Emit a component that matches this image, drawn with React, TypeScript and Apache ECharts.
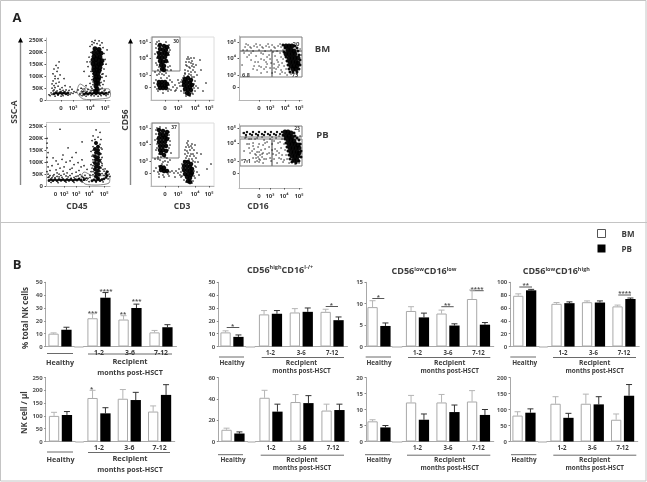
import React, { useEffect, useRef } from "react";
import * as echarts from "echarts";

// ---------- bar chart data ----------
const healthyCat = ["Healthy"];
const recipientCat = ["1-2", "3-6", "7-12"];

const pctTotalBM = [10, 22, 21, 11];
const pctTotalBMErr = [0.6, 3.5, 3, 1.5];
const pctTotalPB = [13, 38, 30, 15];
const pctTotalPBErr = [2, 4, 3, 2];
const countTotalBM = [100, 170, 167, 117];
const countTotalBMErr = [14, 30, 36, 22];
const countTotalPB = [104, 110, 162, 182];
const countTotalPBErr = [13, 22, 30, 40];

const pctHighBM = [11, 25, 26.5, 27];
const pctHighBMErr = [1.2, 3, 3, 2];
const pctHighPB = [7.5, 25.5, 27, 20.5];
const pctHighPBErr = [1.5, 2.5, 3, 2.5];
const countHighBM = [11, 41, 37, 29];
const countHighBMErr = [1.5, 7, 7, 6];
const countHighPB = [7.5, 28, 36, 29.5];
const countHighPBErr = [1.5, 7, 7, 5.5];

const pctLowLowBM = [9.2, 8.3, 7.7, 11.1];
const pctLowLowBMErr = [1.5, 1, 0.8, 2.1];
const pctLowLowPB = [4.8, 6.8, 4.9, 5.1];
const pctLowLowPBErr = [0.7, 1, 0.4, 0.5];
const countLowLowBM = [6.3, 12.2, 12.2, 12.5];
const countLowLowBMErr = [0.5, 2.2, 2.5, 3.4];
const countLowLowPB = [4.4, 6.8, 9.2, 8.3];
const countLowLowPBErr = [0.6, 1.8, 2.2, 1.7];

const pctLowHighBM = [79, 66.5, 69, 62.5];
const pctLowHighBMErr = [3, 2, 2, 2];
const pctLowHighPB = [87.5, 67.5, 68.5, 74];
const pctLowHighPBErr = [1.5, 2, 2.5, 1.5];
const countLowHighBM = [81, 118, 118, 68];
const countLowHighBMErr = [12, 22, 30, 18];
const countLowHighPB = [90, 74, 116, 143];
const countLowHighPBErr = [12, 14, 24, 35];

// ---------- flow cytometry dots ----------
const sscTopCore = [[49,215],[53,212],[48,198],[52,200],[55,196],[48,182],[51,185],[54,180],[47,168],[50,170],[53,168],[56,165],[47,152],[50,155],[53,150],[55,152],[48,138],[51,140],[54,136],[48,124],[51,126],[53,122],[49,110],[52,112],[50,98],[53,96],[49,86],[52,84],[50,72],[52,70],[50,58],[51,46],[50,36]];
const sscTopBand = [[38,24],[40,28],[42,25],[44,29],[46,26],[48,30],[50,26],[52,30],[54,27],[56,30],[58,26],[60,28],[8,26],[10,30],[12,26],[14,30],[16,27],[18,30],[20,26],[22,29]];
const sscTopDots = [[46,245],[49,250],[53,248],[56,240],[44,225],[57,220],[45,200],[58,195],[43,180],[59,170],[44,160],[57,150],[42,140],[58,130],[45,120],[57,110],[43,100],[56,95],[46,85],[58,80],[44,70],[57,65],[45,55],[56,50],[42,45],[59,42],[47,40],[40,60],[60,100],[38,120],[61,210],[41,160],[60,150],[46,232],[48,240],[51,236],[54,230],[47,110],[46,130],[55,125],[56,108],[47,98],[54,88],[47,76],[55,74],[47,64],[54,60],[46,48],[54,46],[48,42],[53,38],[45,38],[58,38],[41,36],[36,30],[34,28],[62,30],[63,34],[55,18],[45,18],
[5,30],[7,38],[6,50],[8,60],[10,70],[7,80],[12,90],[9,100],[11,120],[10,145],[13,160],[7,110],[14,45],[17,40],[20,42],[23,40],[26,45],[28,35],[25,30],[30,32],[24,55],[19,60],[16,52],[13,75],[18,90],[3,22],[4,18],[22,20],[15,16],[9,16],[32,42],[34,22],[36,18],[40,16],[48,17],[52,16],[60,18],[62,24],[63,32],[35,50],[37,35],[11,38],[8,42],[15,36],[19,35],[12,20],[17,18],[6,24],[24,24],[27,28],[9,52],[12,58],[6,68],[14,105],[8,130],[12,135],[9,90]];
const sscBottomCore = [[50,180],[52,165],[49,155],[52,150],[50,140],[53,135],[49,125],[52,120],[50,110],[53,106],[49,96],[52,92],[50,82],[53,78],[49,70],[52,64],[50,54],[53,48],[50,40],[52,32]];
const sscBottomBand = [[46,22],[48,26],[50,22],[52,27],[54,23],[56,27],[58,30],[60,36],[61,44],[60,52],[61,60],[3,23],[5,27],[7,23],[9,27],[11,23],[13,27],[15,24],[17,27],[19,23],[21,27],[23,24],[25,27],[27,23],[29,27],[31,25],[33,28],[35,24],[38,27]];
const sscBottomDots = [[50,235],[54,225],[47,210],[52,205],[55,195],[46,190],[49,195],[54,175],[47,165],[56,155],[45,145],[55,135],[46,125],[56,120],[47,110],[55,100],[45,90],[56,85],[46,75],[57,70],[45,60],[54,62],[58,62],[62,60],[63,50],[62,30],[44,45],[42,32],[43,18],[50,16],[57,17],[47,150],[55,160],[47,130],[55,112],[47,100],[56,94],[47,85],[55,76],[47,60],[56,52],[58,45],[47,48],[44,36],[64,40],[59,72],
[14,238],[36,185],[1,200],[1,180],[1,160],[2,140],[1,120],[1,100],[2,80],[1,60],[2,50],[22,160],[30,140],[17,130],[26,120],[36,110],[10,105],[20,100],[28,90],[38,85],[6,85],[14,75],[24,70],[33,65],[41,70],[4,65],[11,55],[18,50],[26,52],[34,48],[39,45],[7,42],[13,38],[22,38],[30,40],[37,36],[5,15],[12,14],[20,16],[28,15],[36,17],[9,35],[16,36],[25,33],[33,33],[3,38],[6,35],[11,40],[15,44],[20,42],[24,44],[28,36],[32,42],[36,40],[8,48],[13,50],[21,55],[30,58],[17,62],[10,68],[26,75],[35,80],[18,80],[12,92],[32,98],[7,118],[24,105],[16,112],[2,36],[4,44],[40,32]];

const cd3TopCore = [[9,55],[13,54],[16,53],[9,51],[12,50],[15,50],[8,47],[11,46],[14,47],[16,46],[8,43],[11,42],[14,43],[9,39],[12,38],[15,39],[10,35],[13,34],[11,31],[13,30],[8,18],[11,18],[14,18],[16,16],[8,15],[11,15],[14,14],[9,12],[12,12],[15,12],[34,21],[37,22],[40,20],[33,18],[36,18],[39,17],[41,15],[33,15],[36,14],[39,13],[34,11],[37,10],[40,10],[36,7],[38,6]];
const cd3TopDots = [[6,58],[8,59],[15,58],[18,55],[19,50],[5,52],[4,46],[18,45],[6,42],[17,38],[19,34],[5,37],[7,30],[16,30],[4,28],[20,30],[8,26],[13,25],[18,24],[10,22],[16,22],[5,20],[21,18],[22,13],[24,15],[26,12],[28,17],[29,14],[30,18],[24,9],[7,9],[12,7],[17,9],[4,13],[3,17],[32,22],[34,26],[37,24],[40,25],[43,23],[44,19],[45,14],[44,9],[42,6],[33,7],[30,9],[34,30],[36,34],[38,38],[40,42],[42,36],[39,32],[36,41],[42,30],[44,28],[41,39],[35,38],[37,43],[43,42],[45,35],[46,25],[47,12],[55,17],[52,9],[50,30],[49,40],[5,56],[7,54],[18,52],[6,48],[18,48],[6,35],[8,33],[17,33],[9,28],[15,27],[11,26],[6,25],[19,20],[6,16],[18,15],[6,11],[18,11],[20,10],[31,14],[27,20],[25,10],[31,20],[33,24],[38,26],[41,23],[43,16],[43,12],[33,9],[41,7],[39,4],[35,4],[38,33],[41,34],[35,35],[38,41],[40,37],[43,33],[37,29],[40,28],[34,27]];
const cd3BottomCore = [[8,56],[12,55],[16,54],[9,52],[12,51],[15,51],[8,48],[11,48],[14,48],[16,47],[8,44],[11,44],[14,44],[9,40],[12,40],[15,40],[9,36],[12,36],[15,35],[10,33],[13,31],[10,19],[13,18],[10,16],[13,15],[16,15],[34,24],[37,24],[40,22],[33,20],[36,20],[39,19],[41,17],[33,16],[36,16],[39,15],[41,13],[34,12],[37,12],[40,11],[36,9],[39,8],[37,5],[39,4]];
const cd3BottomDots = [[6,58],[9,59],[15,58],[18,54],[5,52],[4,46],[18,48],[6,42],[19,41],[17,36],[20,33],[5,36],[7,29],[16,28],[4,27],[9,26],[14,25],[19,26],[11,22],[13,20],[16,21],[8,20],[5,18],[21,15],[23,13],[25,15],[27,13],[28,17],[30,14],[24,9],[8,9],[13,9],[18,10],[3,15],[33,25],[35,28],[38,27],[41,27],[44,24],[45,19],[46,14],[44,8],[42,5],[33,6],[30,9],[34,32],[36,35],[38,39],[41,42],[43,36],[40,32],[36,43],[43,30],[45,28],[40,40],[35,39],[37,45],[44,41],[46,33],[47,24],[48,11],[60,22],[56,17],[50,32],[5,56],[18,51],[6,47],[19,45],[6,38],[18,38],[8,32],[7,27],[12,24],[17,24],[10,29],[14,29],[7,14],[8,12],[12,11],[17,12],[19,14],[31,18],[29,11],[31,10],[31,22],[35,4],[41,3],[43,10],[43,15],[44,20],[36,30],[39,30],[42,32],[37,33],[34,36],[39,36],[41,38],[37,41],[42,25]];
const cd16TopCore = [[47,54],[50,54],[53,54],[49,50],[52,50],[55,49],[47,46],[50,46],[53,46],[56,46],[50,42],[53,42],[56,42],[59,42],[51,38],[54,38],[57,38],[59,37],[52,34],[55,34],[58,34],[54,31],[57,31]];
const cd16TopMid = [[44,55],[46,52],[45,48],[47,43],[48,39],[49,35],[50,31],[51,28],[54,28],[58,28],[60,31],[61,35],[61,40],[60,45],[59,49],[58,52],[56,54]];
const cd16TopDots = [[6,53],[9,55],[12,52],[15,54],[18,53],[21,55],[24,52],[27,54],[30,53],[33,55],[36,52],[39,54],[42,53],[4,50],[8,50],[14,49],[20,50],[26,49],[32,50],[38,49],[44,50],[10,45],[17,44],[24,46],[30,45],[36,44],[41,47],[12,40],[19,38],[25,40],[31,41],[38,40],[44,41],[15,34],[22,33],[28,36],[35,36],[40,35],[45,34],[18,30],[25,31],[31,32],[37,31],[42,30],[47,31],[22,27],[33,27],[46,27],[52,26],[58,26],[62,45],[61,51],[8,43],[3,35],[28,28],[7,56],[11,53],[17,56],[23,53],[29,56],[35,53],[41,56],[5,47],[12,47],[22,47],[28,43],[34,48],[42,43],[43,37],[39,38],[35,32],[32,37],[27,38],[22,41],[16,38],[20,34],[14,31],[27,33],[36,28],[41,26],[48,25],[43,28],[39,33]];
const cd16BottomBand = [[5,55],[8,56],[11,54],[14,56],[17,54],[20,56],[23,54],[26,56],[29,54],[32,56],[35,54],[38,56],[41,54],[43,56],[7,53],[13,53],[19,53],[25,53],[31,53],[37,53]];
const cd16BottomCore = [[46,56],[49,56],[52,55],[47,52],[50,52],[53,51],[49,48],[52,48],[55,47],[50,44],[53,44],[56,44],[59,43],[51,40],[54,40],[57,40],[60,40],[52,36],[55,36],[58,36],[60,35],[53,32],[56,32],[59,32],[55,28],[58,28]];
const cd16BottomMid = [[44,53],[46,49],[47,45],[48,41],[49,37],[50,33],[51,29],[53,26],[57,25],[60,27],[62,31],[62,37],[61,44],[60,48],[58,50],[56,52],[55,55]];
const cd16BottomDots = [[4,55],[7,51],[10,49],[16,49],[19,52],[23,51],[33,51],[40,52],[44,52],[6,50],[12,49],[18,50],[25,48],[31,49],[37,50],[43,49],[8,44],[14,45],[20,44],[26,45],[33,44],[39,45],[45,44],[10,40],[15,39],[19,41],[22,38],[26,39],[30,41],[36,39],[42,40],[46,38],[11,35],[16,34],[18,36],[21,33],[24,35],[28,34],[34,34],[40,35],[47,33],[14,30],[17,30],[20,29],[23,31],[27,29],[35,29],[42,29],[48,29],[16,26],[20,26],[24,25],[44,26],[50,25],[56,24],[60,25],[62,44],[61,52],[60,57],[5,37],[3,28],[31,30],[8,27],[17,33],[20,36],[23,34],[19,31],[21,28],[18,27],[25,29],[13,37],[10,44],[28,46],[35,47],[41,46],[38,37],[33,38],[43,33],[37,33],[30,35],[40,30],[45,28],[38,25],[32,27],[14,42],[24,43]];

// ---------- tick labels ----------
const sscTicks = [0, 50, 100, 150, 200, 250];
const sscTickLabels = ["0", "50K", "100K", "150K", "200K", "250K"];
const logLabels = ["0", "10³", "10⁴", "10⁵"];
const cd45BottomLabels = ["10²", "10³", "10⁴", "10⁵"];

const FONT = "'Open Sans', sans-serif";
const TXT = "#3c3c3c";

function labelMap(vals: number[], labels: string[]) {
  const m: Record<string, string> = {};
  vals.forEach((v, i) => (m[String(v)] = labels[i]));
  return (v: any) => m[String(v)] ?? "";
}

function buildOption() {
  const grid: any[] = [];
  const xAxis: any[] = [];
  const yAxis: any[] = [];
  const series: any[] = [];
  const graphic: any[] = [];

  const text = (t: string, x: number, y: number, size = 7, extra: any = {}, rotation = 0) => {
    graphic.push({
      type: "text", x, y, rotation, silent: true,
      style: { text: t, fontSize: size, fontWeight: "bold", fontFamily: FONT, fill: TXT, textAlign: "center", textVerticalAlign: "middle", verticalAlign: "middle", ...extra },
    });
  };
  const line = (x1: number, y1: number, x2: number, y2: number, stroke = "#777", lineWidth = 1) => {
    graphic.push({ type: "line", silent: true, shape: { x1, y1, x2, y2 }, style: { stroke, lineWidth } });
  };
  const gate = (x: number, y: number, w: number, h: number) => {
    graphic.push({ type: "rect", silent: true, shape: { x, y, width: w, height: h }, style: { fill: "none", stroke: "#7d7d7d", lineWidth: 1 } });
  };

  // ---- flow panels ----
  const flow = (p: any) => {
    const idx = grid.length;
    grid.push({ left: p.l, top: p.t, width: p.w, height: p.h, show: p.frame, borderColor: "#dcdcdc", borderWidth: 1, backgroundColor: "transparent" });
    xAxis.push({
      gridIndex: idx, type: "value", min: 0, max: p.w, silent: true, splitLine: { show: false },
      axisLine: { lineStyle: { color: "#b5b5b5", width: 1 } },
      axisTick: { customValues: p.xv, length: 1.5, lineStyle: { color: "#555" } },
      axisLabel: { customValues: p.xv, formatter: labelMap(p.xv, p.xl), hideOverlap: false, showMinLabel: true, showMaxLabel: true, fontSize: 6, fontWeight: "bold", color: TXT, fontFamily: FONT, margin: 5 },
    });
    yAxis.push({
      gridIndex: idx, type: "value", min: 0, max: p.ymax, silent: true, splitLine: { show: false },
      axisLine: { lineStyle: { color: "#b5b5b5", width: 1 } },
      axisTick: { customValues: p.yv, length: 1.5, lineStyle: { color: "#555" } },
      axisLabel: { customValues: p.yv, formatter: labelMap(p.yv, p.yl), hideOverlap: false, fontSize: 6, fontWeight: "bold", color: TXT, fontFamily: FONT, margin: 3 },
    });
    p.sets.forEach((s: any, k: number) => {
      series.push({
        type: "scatter", name: `${p.name}-${k}`, xAxisIndex: idx, yAxisIndex: idx, data: s[0], symbolSize: s[1], silent: true,
        itemStyle: { color: "#000", opacity: 0.95 },
      });
    });
  };

  flow({ name: "cd45a", l: 46, t: 38, w: 64, h: 62, ymax: 260, xv: [15, 27, 44, 59], xl: logLabels, yv: sscTicks, yl: sscTickLabels, frame: false,
    sets: [[sscTopCore, 5], [sscTopBand, 3], [sscTopDots, 1.5]] });
  flow({ name: "cd45b", l: 46, t: 124, w: 64, h: 62, ymax: 260, xv: [18, 30, 43, 58], xl: cd45BottomLabels, yv: sscTicks, yl: sscTickLabels, frame: false,
    sets: [[sscBottomCore, 4], [sscBottomBand, 2.8], [sscBottomDots, 1.5]] });
  text("0", 55.5, 194.3, 6);
  const cdY = [13, 25, 42, 58];
  flow({ name: "cd3a", l: 151, t: 37, w: 63, h: 63, ymax: 63, xv: [14, 27, 44, 58], xl: logLabels, yv: cdY, yl: logLabels, frame: true,
    sets: [[cd3TopCore, 4.5], [cd3TopDots, 1.5]] });
  flow({ name: "cd3b", l: 151, t: 123, w: 63, h: 63, ymax: 63, xv: [14, 27, 44, 58], xl: logLabels, yv: cdY, yl: logLabels, frame: true,
    sets: [[cd3BottomCore, 4.5], [cd3BottomDots, 1.5]] });
  flow({ name: "cd16a", l: 239, t: 36, w: 63, h: 64, ymax: 64, xv: [20, 31, 46, 60], xl: logLabels, yv: cdY, yl: logLabels, frame: false,
    sets: [[cd16TopCore, 5], [cd16TopMid, 3], [cd16TopDots, 1.3]] });
  flow({ name: "cd16b", l: 239, t: 124, w: 63, h: 64, ymax: 64, xv: [20, 31, 45, 60], xl: logLabels, yv: [15, 27, 45, 60], yl: logLabels, frame: false,
    sets: [[cd16BottomCore, 5], [cd16BottomMid, 3], [cd16BottomBand, 2.4], [cd16BottomDots, 1.4]] });

  line(46, 122.5, 110, 122.5, "#c8c8c8", 1.2);

  // gates
  graphic.push({ type: "polygon", silent: true, shape: { smooth: 0.25, points: [[80, 84], [90, 90], [109, 89], [110, 97], [100, 99], [83, 99], [77, 92]] }, style: { fill: "none", stroke: "#888", lineWidth: 1 } });
  graphic.push({ type: "polygon", silent: true, shape: { smooth: 0.25, points: [[84, 172], [93, 176], [109, 176], [109, 183], [98, 185], [85, 184], [81, 178]] }, style: { fill: "none", stroke: "#888", lineWidth: 1 } });
  gate(152, 37, 28, 34);
  gate(152, 123, 27, 35);
  gate(240, 37, 62, 14);
  gate(240, 51, 32, 26);
  gate(272, 51, 30, 26);
  gate(240, 126, 62, 11);
  gate(240, 139, 32, 27);
  gate(272, 139, 30, 27);
  text("28", 83, 90, 5);
  text("36", 85, 179, 5);
  text("30", 176, 41, 5);
  text("37", 174, 127, 5);
  text("20", 296, 43.5, 6);
  text("6.8", 246, 75, 5.5);
  text("73", 295, 75, 5.5);
  text("23", 297, 128, 5);
  text("7.1", 247, 161, 5.5);
  text("70", 293, 161, 5.5);

  // arrows and panel A texts
  line(20.5, 41, 20.5, 185, "#8a8a8a", 1.4);
  graphic.push({ type: "polygon", silent: true, shape: { points: [[20.5, 37.5], [23, 42.5], [18, 42.5]] }, style: { fill: "#000" } });
  line(130.5, 42, 130.5, 185, "#8a8a8a", 1.4);
  graphic.push({ type: "polygon", silent: true, shape: { points: [[130.5, 38.5], [133, 43.5], [128, 43.5]] }, style: { fill: "#000" } });
  text("SSC-A", 13, 112, 8.5, {}, Math.PI / 2);
  text("CD56", 124, 120, 8.5, {}, Math.PI / 2);
  text("CD45", 77, 205.5, 8.5);
  text("CD3", 182, 205.5, 8.5);
  text("CD16", 258, 205.5, 8.5);
  text("BM", 322.5, 48, 9.5);
  text("PB", 322.5, 134, 9.5);
  text("A", 17, 17, 13, { fill: "#222" });
  text("B", 17, 264, 13, { fill: "#222" });

  // ---- bar panels ----
  const bars = (p: any) => {
    const gH = grid.length;
    const ticks = { length: 1.5, lineStyle: { color: "#888" } };
    const gray = { lineStyle: { color: "#a8a8a8", width: 1 } };
    const bottom = p.bottom;
    grid.push({ left: p.ax, top: p.top, width: 2 * (p.h - p.ax), height: bottom - p.top });
    const rLeft = p.r[0] - p.pitch / 2;
    grid.push({ left: rLeft, top: p.top, width: 3 * p.pitch, height: bottom - p.top });
    xAxis.push(
      { gridIndex: gH, type: "category", data: healthyCat, silent: true, axisLine: gray, axisTick: { show: false },
        axisLabel: { fontSize: p.fs, fontWeight: "bold", color: TXT, fontFamily: FONT, margin: p.hm } },
      { gridIndex: gH + 1, type: "category", data: recipientCat, silent: true, axisLine: gray, axisTick: { show: false },
        axisLabel: { fontSize: p.fs - 0.3, fontWeight: "bold", color: TXT, fontFamily: FONT, margin: p.rm } }
    );
    const yCommon = { type: "value", min: 0, max: p.max, interval: p.int, splitLine: { show: false }, silent: true };
    yAxis.push(
      { ...yCommon, gridIndex: gH, axisLine: { show: true, ...gray }, axisTick: { show: true, ...ticks },
        axisLabel: { fontSize: 6, fontWeight: "bold", color: "#555", fontFamily: FONT, margin: 3 } },
      { ...yCommon, gridIndex: gH + 1, show: false }
    );
    line(2 * p.h - p.ax, bottom + 0.5, rLeft, bottom + 0.5, "#a8a8a8", 1);

    const addGroup = (g: number, bm: number[], bmE: number[], pb: number[], pbE: number[], barW: number) => {
      const off = barW / 2 + 1.3;
      series.push(
        { type: "bar", name: "BM", xAxisIndex: g, yAxisIndex: g, data: bm, barWidth: barW, barGap: "25%", silent: true, itemStyle: { color: "#fff", borderColor: "#a9a9a9", borderWidth: 1 } },
        { type: "bar", name: "PB", xAxisIndex: g, yAxisIndex: g, data: pb, barWidth: barW, barGap: "25%", silent: true, itemStyle: { color: "#000", borderColor: "#000", borderWidth: 0 } }
      );
      const err = (vals: number[], errs: number[], dx: number, color: string) => {
        series.push({
          type: "custom", name: "err", xAxisIndex: g, yAxisIndex: g, silent: true, clip: false,
          data: vals.map((v, i) => [i, v, errs[i]]),
          encode: { x: 0, y: 1 },
          renderItem: (_: any, api: any) => {
            const a = api.coord([api.value(0), api.value(1)]);
            const b = api.coord([api.value(0), api.value(1) + api.value(2)]);
            const style = { stroke: color, lineWidth: 1 };
            return {
              type: "group",
              children: [
                { type: "line", shape: { x1: a[0] + dx, y1: a[1], x2: a[0] + dx, y2: b[1] }, style },
                { type: "line", shape: { x1: a[0] + dx - 3, y1: b[1], x2: a[0] + dx + 3, y2: b[1] }, style },
              ],
            };
          },
        });
      };
      err(bm, bmE, -off, "#b5b5b5");
      err(pb, pbE, off, "#333");
    };
    addGroup(gH, p.bm.slice(0, 1), p.bmE.slice(0, 1), p.pb.slice(0, 1), p.pbE.slice(0, 1), 10.3);
    addGroup(gH + 1, p.bm.slice(1), p.bmE.slice(1), p.pb.slice(1), p.pbE.slice(1), 10.3);

    // brackets and labels
    line(p.hb[0], p.by, p.hb[1], p.by, "#6a6a6a", 1);
    line(p.rb[0], p.by + 0.5, p.rb[1], p.by + 0.5, "#6a6a6a", 1);
    text("Recipient", p.rt[0], p.rt[1], p.fs + 0.3);
    text("months post-HSCT", p.rt[0], p.rt[2], p.fs);
    (p.sig || []).forEach((s: any) => {
      if (s[3] != null) line(s[3], s[4], s[5], s[4], "#444", 0.9);
      text(s[0], s[1], s[2], 6, { fill: "#555" });
    });
  };

  const topY = { top: 282.3, bottom: 346.5 };
  const botY = { top: 377.5, bottom: 441.5 };
  bars({ ...topY, ax: 45.7, h: 60, r: [99, 130, 161], pitch: 31, max: 50, int: 10, bm: pctTotalBM, bmE: pctTotalBMErr, pb: pctTotalPB, pbE: pctTotalPBErr,
    fs: 7.2, hm: 12, rm: 2, hb: [47, 73], rb: [88, 172], by: 353.5, rt: [130, 360.5, 372],
    sig: [["***", 92.7, 313], ["****", 106, 291], ["**", 123, 313.5], ["***", 136.7, 301]] });
  bars({ ...botY, ax: 45.7, h: 60.5, r: [99, 129.5, 159.5], pitch: 30.3, max: 250, int: 50, bm: countTotalBM, bmE: countTotalBMErr, pb: countTotalPB, pbE: countTotalPBErr,
    fs: 7.2, hm: 14, rm: 2, hb: [47, 73], rb: [88, 170], by: 452, rt: [130, 458, 468.7],
    sig: [["*", 91.7, 388.5]] });
  bars({ ...topY, ax: 218.3, h: 232, r: [270.5, 301.5, 332], pitch: 30.8, max: 50, int: 10, bm: pctHighBM, bmE: pctHighBMErr, pb: pctHighPB, pbE: pctHighPBErr,
    fs: 6.4, hm: 13, rm: 2.5, hb: [219, 244], rb: [261.7, 344], by: 357, rt: [301.5, 362, 370.3],
    sig: [["*", 232.7, 325.5, 226.7, 327.5, 239.3], ["*", 331.3, 304.5, 325.7, 306.5, 338]] });
  bars({ ...botY, ax: 218.3, h: 233, r: [271, 302, 333], pitch: 31, max: 60, int: 20, bm: countHighBM, bmE: countHighBMErr, pb: countHighPB, pbE: countHighPBErr,
    fs: 6.4, hm: 15, rm: 3, hb: [218, 243], rb: [260.7, 344], by: 454.7, rt: [302, 459.3, 467.3] });
  bars({ ...topY, ax: 366, h: 379, r: [417.5, 448, 478], pitch: 30.5, max: 15, int: 5, bm: pctLowLowBM, bmE: pctLowLowBMErr, pb: pctLowLowPB, pbE: pctLowLowPBErr,
    fs: 6.4, hm: 13, rm: 2.5, hb: [365.7, 391], rb: [408, 490.3], by: 357, rt: [449.7, 362, 370.3],
    sig: [["*", 378.3, 296.5, 372.3, 298.5, 384.3], ["**", 447.3, 304.5, 441.3, 306.7, 453.7], ["****", 477, 288.5, 470.3, 290.7, 483.7]] });
  bars({ ...botY, ax: 366, h: 379, r: [417.5, 448, 478], pitch: 30.5, max: 20, int: 5, bm: countLowLowBM, bmE: countLowLowBMErr, pb: countLowLowPB, pbE: countLowLowPBErr,
    fs: 6.4, hm: 15, rm: 3, hb: [365, 390], rb: [407, 490.3], by: 454.7, rt: [449.7, 459.3, 467.3] });
  bars({ ...topY, ax: 510.3, h: 524.7, r: [563, 593.5, 624], pitch: 30.5, max: 100, int: 20, bm: pctLowHighBM, bmE: pctLowHighBMErr, pb: pctLowHighPB, pbE: pctLowHighPBErr,
    fs: 6.4, hm: 13, rm: 2.5, hb: [510.3, 536], rb: [553, 636], by: 357, rt: [594.7, 362, 370.3],
    sig: [["**", 525.7, 285, 519.3, 287, 532], ["****", 624.7, 293, 618.3, 295, 631]] });
  bars({ ...botY, ax: 510, h: 524, r: [562, 592.5, 622.5], pitch: 30.3, max: 200, int: 50, bm: countLowHighBM, bmE: countLowHighBMErr, pb: countLowHighPB, pbE: countLowHighPBErr,
    fs: 6.4, hm: 15, rm: 3, hb: [511, 536.3], rb: [553.3, 636.3], by: 454.7, rt: [594.7, 459.3, 467.3] });

  text("% total NK cells", 24, 318, 8, {}, Math.PI / 2);
  text("NK cell / µl", 23, 412.7, 8, {}, Math.PI / 2);

  const titleRich = {
    b: { fontSize: 9, fontWeight: "bold", fontFamily: FONT, fill: TXT, color: TXT },
    s: { fontSize: 5.5, fontWeight: "bold", fontFamily: FONT, fill: TXT, color: TXT, verticalAlign: "top", lineHeight: 10 },
  };
  text("{b|CD56}{s|high}{b|CD16}{s|l-/+}", 280, 269, 9, { rich: titleRich });
  text("{b|CD56}{s|low}{b|CD16}{s|low}", 424, 270.7, 9, { rich: titleRich });
  text("{b|CD56}{s|low}{b|CD16}{s|high}", 556.3, 270.7, 9, { rich: titleRich });

  // figure frame
  graphic.push({ type: "rect", silent: true, shape: { x: 0.5, y: 0.5, width: 645.5, height: 480.5 }, style: { fill: "none", stroke: "#c4c4c4", lineWidth: 1 } });
  line(0, 222.5, 647, 222.5, "#c4c4c4", 1);

  return {
    animation: false,
    backgroundColor: "#fff",
    legend: {
      data: [{ name: "BM", itemStyle: { color: "#fff", borderColor: "#555", borderWidth: 1 } }, { name: "PB" }],
      orient: "vertical", left: 597, top: 229, itemWidth: 8, itemHeight: 8, itemGap: 6.5, icon: "rect", selectedMode: false, padding: 0,
      textStyle: { fontSize: 8, fontWeight: "bold", color: TXT, fontFamily: FONT, padding: [0, 0, 0, 11] },
    },
    grid, xAxis, yAxis, series, graphic,
  };
}

export default function App() {
  const ref = useRef<HTMLDivElement>(null);
  useEffect(() => {
    document.body.style.margin = "0";
    const chart = echarts.init(ref.current!, null, { renderer: "svg" });
    chart.setOption(buildOption() as any);
    return () => chart.dispose();
  }, []);
  return <div ref={ref} style={{ width: 647, height: 482, filter: "blur(0.45px)" }} />;
}
